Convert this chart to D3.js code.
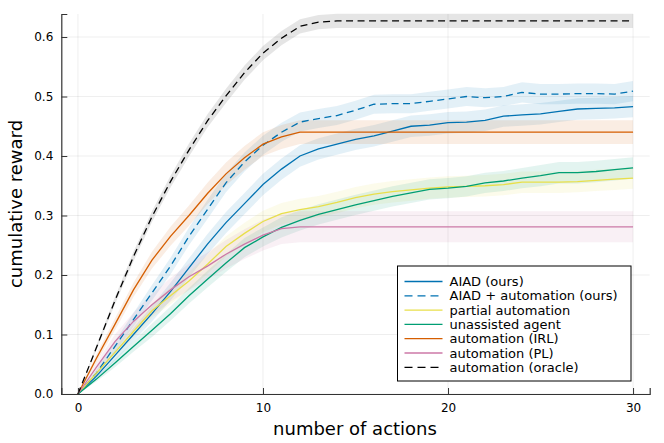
<!DOCTYPE html>
<html>
<head>
<meta charset="utf-8">
<script src="https://cdn.jsdelivr.net/npm/d3@7"></script>
<style>
  html, body { margin: 0; padding: 0; background: #fff; }
  svg { display: block; font-family: "DejaVu Sans", sans-serif; }
</style>
</head>
<body>
<svg id="chart" width="664" height="443"></svg>
<script>
// ---- data ----
const steps = d3.range(0, 31);
const xTicks = [0, 10, 20, 30];
const yTicks = [0.0, 0.1, 0.2, 0.3, 0.4, 0.5, 0.6];
const xLabel = "number of actions";
const yLabel = "cumulative reward";

const seriesNames = ["AIAD (ours)", "AIAD + automation (ours)", "partial automation",
  "unassisted agent", "automation (IRL)", "automation (PL)", "automation (oracle)"];

const aiad = [0, 0.030, 0.065, 0.100, 0.135, 0.172, 0.212, 0.252, 0.288, 0.320, 0.352,
  0.378, 0.400, 0.412, 0.420, 0.428, 0.434, 0.442, 0.450, 0.452, 0.456,
  0.457, 0.460, 0.467, 0.469, 0.471, 0.475, 0.479, 0.480, 0.481, 0.483];
const aiadErr = [0, 0.006, 0.009, 0.011, 0.013, 0.015, 0.016, 0.017, 0.018, 0.018, 0.018,
  0.018, 0.018, 0.018, 0.018, 0.018, 0.018, 0.018, 0.018, 0.018, 0.018,
  0.018, 0.018, 0.018, 0.018, 0.018, 0.018, 0.018, 0.018, 0.018, 0.018];

const aiadAuto = [0, 0.035, 0.080, 0.125, 0.170, 0.215, 0.265, 0.310, 0.355, 0.390, 0.418,
  0.440, 0.457, 0.463, 0.468, 0.477, 0.487, 0.488, 0.488, 0.492, 0.496,
  0.500, 0.498, 0.500, 0.507, 0.504, 0.504, 0.505, 0.505, 0.504, 0.509];
const aiadAutoErr = [0, 0.006, 0.009, 0.011, 0.013, 0.014, 0.015, 0.016, 0.016, 0.016, 0.016,
  0.016, 0.016, 0.016, 0.016, 0.016, 0.016, 0.016, 0.016, 0.016, 0.016,
  0.016, 0.016, 0.016, 0.017, 0.017, 0.017, 0.017, 0.017, 0.017, 0.017];

const partial = [0, 0.035, 0.070, 0.105, 0.140, 0.165, 0.190, 0.218, 0.248, 0.270, 0.290,
  0.303, 0.310, 0.315, 0.322, 0.330, 0.336, 0.340, 0.343, 0.346, 0.348,
  0.349, 0.350, 0.352, 0.356, 0.356, 0.356, 0.357, 0.359, 0.361, 0.363];
const partialErr = [0, 0.005, 0.008, 0.010, 0.012, 0.014, 0.015, 0.016, 0.017, 0.018, 0.018,
  0.018, 0.018, 0.018, 0.018, 0.018, 0.018, 0.018, 0.018, 0.018, 0.018,
  0.018, 0.018, 0.018, 0.018, 0.018, 0.018, 0.018, 0.018, 0.018, 0.018];

const unassisted = [0, 0.025, 0.052, 0.080, 0.107, 0.135, 0.165, 0.193, 0.220, 0.246, 0.264,
  0.280, 0.292, 0.302, 0.310, 0.318, 0.325, 0.332, 0.338, 0.344, 0.346,
  0.349, 0.355, 0.358, 0.363, 0.367, 0.372, 0.372, 0.374, 0.377, 0.380];
const unassistedErr = [0, 0.004, 0.007, 0.009, 0.011, 0.012, 0.013, 0.014, 0.015, 0.016, 0.016,
  0.017, 0.017, 0.017, 0.017, 0.017, 0.017, 0.017, 0.017, 0.017, 0.017,
  0.017, 0.017, 0.017, 0.017, 0.018, 0.018, 0.018, 0.018, 0.018, 0.018];

const irl = [0, 0.060, 0.117, 0.175, 0.225, 0.265, 0.300, 0.337, 0.370, 0.397, 0.420,
  0.432, 0.440, 0.440, 0.440, 0.440, 0.440, 0.440, 0.440, 0.440, 0.440,
  0.440, 0.440, 0.440, 0.440, 0.440, 0.440, 0.440, 0.440, 0.440, 0.440];
const irlErr = [0, 0.007, 0.010, 0.012, 0.014, 0.016, 0.017, 0.018, 0.019, 0.020, 0.020,
  0.020, 0.020, 0.020, 0.020, 0.020, 0.020, 0.020, 0.020, 0.020, 0.020,
  0.020, 0.020, 0.020, 0.020, 0.020, 0.020, 0.020, 0.020, 0.020, 0.020];

const pl = [0, 0.045, 0.088, 0.122, 0.150, 0.175, 0.197, 0.215, 0.235, 0.252, 0.267,
  0.278, 0.281, 0.281, 0.281, 0.281, 0.281, 0.281, 0.281, 0.281, 0.281,
  0.281, 0.281, 0.281, 0.281, 0.281, 0.281, 0.281, 0.281, 0.281, 0.281];
const plErr = [0, 0.008, 0.012, 0.015, 0.018, 0.020, 0.022, 0.023, 0.024, 0.025, 0.026,
  0.026, 0.026, 0.026, 0.026, 0.026, 0.026, 0.026, 0.026, 0.026, 0.026,
  0.026, 0.026, 0.026, 0.026, 0.026, 0.026, 0.026, 0.026, 0.026, 0.026];

const oracle = [0, 0.078, 0.157, 0.231, 0.298, 0.357, 0.410, 0.459, 0.501, 0.540, 0.573,
  0.598, 0.618, 0.625, 0.627, 0.627, 0.627, 0.627, 0.627, 0.627, 0.627,
  0.627, 0.627, 0.627, 0.627, 0.627, 0.627, 0.627, 0.627, 0.627, 0.627];
const oracleErr = [0, 0.004, 0.006, 0.008, 0.009, 0.010, 0.011, 0.011, 0.012, 0.012, 0.012,
  0.012, 0.012, 0.012, 0.012, 0.012, 0.012, 0.012, 0.012, 0.012, 0.012,
  0.012, 0.012, 0.012, 0.012, 0.012, 0.012, 0.012, 0.012, 0.012, 0.012];

const seriesValues = [aiad, aiadAuto, partial, unassisted, irl, pl, oracle];
const seriesErrors = [aiadErr, aiadAutoErr, partialErr, unassistedErr, irlErr, plErr, oracleErr];
const seriesColors = ["#0072B2", "#0072B2", "#E8DF4A", "#009E73", "#D55E00", "#CC79A7", "#000000"];
const seriesDashed = [false, true, false, false, false, false, true];

// ---- layout ----
const svg = d3.select("#chart");
const x = d3.scaleLinear().domain([-0.9, 30.9]).range([61.3, 649.7]);
const y = d3.scaleLinear().domain([0, 0.6387]).range([394, 14]);

// grid
const grid = svg.append("g");
grid.selectAll(".gx").data(xTicks).enter().append("line")
  .attr("x1", d => x(d)).attr("x2", d => x(d)).attr("y1", y.range()[1]).attr("y2", y.range()[0])
  .attr("stroke", "#000").attr("stroke-opacity", 0.08).attr("stroke-width", 0.9);
grid.selectAll(".gy").data(yTicks).enter().append("line")
  .attr("x1", x.range()[0]).attr("x2", x.range()[1]).attr("y1", d => y(d)).attr("y2", d => y(d))
  .attr("stroke", "#000").attr("stroke-opacity", 0.08).attr("stroke-width", 0.9);

// series
const area = d3.area().x((d, i) => x(steps[i])).y0(d => y(d[0])).y1(d => y(d[1]));
const line = d3.line().x((d, i) => x(steps[i])).y(d => y(d));
const plot = svg.append("g");
seriesValues.forEach((vals, k) => {
  const err = seriesErrors[k];
  const band = vals.map((v, i) => [v - err[i], v + err[i]]);
  plot.append("path").attr("d", area(band))
    .attr("fill", seriesColors[k]).attr("fill-opacity", k === 6 ? 0.1 : 0.11).attr("stroke", "none");
});
seriesValues.forEach((vals, k) => {
  plot.append("path").attr("d", line(vals))
    .attr("fill", "none").attr("stroke", seriesColors[k]).attr("stroke-width", 1.3)
    .attr("stroke-dasharray", seriesDashed[k] ? "7,4.5" : null);
});

// axes
const xAxis = d3.axisBottom(x).tickValues(xTicks).tickSize(-6).tickPadding(9).tickFormat(d3.format("d"));
const yAxis = d3.axisLeft(y).tickValues(yTicks).tickSize(-6).tickPadding(8).tickFormat(d3.format(".1f"));
const gx = svg.append("g").attr("transform", `translate(0,${y(0)})`).call(xAxis);
const gy = svg.append("g").attr("transform", `translate(${x.range()[0]},0)`).call(yAxis);
[gx, gy].forEach(g => {
  g.select(".domain").attr("stroke", "#333").attr("stroke-width", 1.2);
  g.selectAll(".tick line").attr("stroke", "#333").attr("stroke-width", 1);
  g.selectAll(".tick text").attr("fill", "#000").attr("font-size", 12)
    .attr("font-family", "DejaVu Sans, sans-serif");
});
gx.selectAll(".tick text").attr("dy", "0.71em");

svg.append("text").attr("x", 355).attr("y", 435).attr("text-anchor", "middle")
  .attr("font-size", 18).attr("fill", "#000").text(xLabel);
svg.append("text").attr("transform", `translate(22,${(y.range()[0] + y.range()[1]) / 2}) rotate(-90)`)
  .attr("text-anchor", "middle").attr("font-size", 18).attr("fill", "#000").text(yLabel);

// legend
const lg = svg.append("g").attr("transform", "translate(397.5,266)");
lg.append("rect").attr("width", 233.5).attr("height", 115)
  .attr("fill", "#fff").attr("stroke", "#000").attr("stroke-width", 1);
seriesNames.forEach((name, k) => {
  const yy = 15.5 + k * 14.3;
  lg.append("line").attr("x1", 7).attr("x2", 45).attr("y1", yy).attr("y2", yy)
    .attr("stroke", seriesColors[k]).attr("stroke-width", 1.3)
    .attr("stroke-dasharray", seriesDashed[k] ? "8,5" : null);
  lg.append("text").attr("x", 52).attr("y", yy).attr("dy", "0.35em")
    .attr("font-size", 13).attr("fill", "#000").text(name);
});
</script>
</body>
</html>
